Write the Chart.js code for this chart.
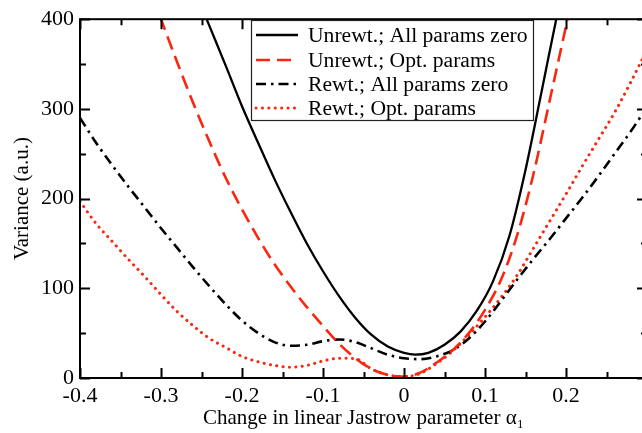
<!DOCTYPE html>
<html>
<head>
<meta charset="utf-8">
<script src="https://cdn.jsdelivr.net/npm/chart.js@4.4.1/dist/chart.umd.min.js"></script>
<style>
  html, body { margin: 0; padding: 0; background: #fff; overflow: hidden; width: 642px; height: 433px; }
  canvas { display: block; }
</style>
</head>
<body>
<canvas id="c" width="660" height="433"></canvas>
<script>
// ---- Data ----
const unrewZeroX = [-0.25,-0.24,-0.22,-0.20,-0.18,-0.16,-0.14,-0.12,-0.10,-0.08,-0.06,-0.04,-0.02,0.0,0.014,0.03,0.05,0.07,0.09,0.11,0.13,0.15,0.17,0.19,0.20];
const unrewZeroY = [414,392,348,303,262,222,185,150,119,91,67,48,35,28,26,28,37,52,75,108,158,232,320,409,450];

const unrewOptX = [-0.31,-0.30,-0.28,-0.26,-0.24,-0.22,-0.20,-0.18,-0.16,-0.14,-0.12,-0.10,-0.08,-0.06,-0.04,-0.02,0.0,0.02,0.04,0.06,0.08,0.10,0.12,0.14,0.16,0.18,0.20,0.21];
const unrewOptY = [425,400,352,306,263,223,188,156,127,102,79,58,38,22,10,3.5,1.5,6,17,31,50,76,110,160,228,310,392,432];

const rewX = [-0.40,-0.38,-0.36,-0.34,-0.32,-0.30,-0.28,-0.26,-0.24,-0.22,-0.20,-0.18,-0.16,-0.14,-0.12,-0.10,-0.08,-0.06,-0.04,-0.02,0.0,0.02,0.04,0.06,0.08,0.10,0.12,0.14,0.16,0.18,0.20,0.22,0.24,0.26,0.28,0.30];
const rewZeroY = [290,262,237,213,190,167,145,123,102,82,64,50,40,36,37,41,43,40,33,26,22,21,24,31,44,63,86,110,133,155,178,201,225,250,275,302];
const rewOptY  = [197,172,152,132,113,93,74,58,44,34,24,18,14,12,14,19,22,21.5,10,3.5,1.5,5,16,30,48,68,90,115,145,175,205,236,266,296,330,366];

const seriesNames = ["Unrewt.; All params zero","Unrewt.; Opt. params","Rewt.; All params zero","Rewt.; Opt. params"];
const xRange = [-0.4, 0.3];
const yRange = [0, 400];

const RED = 'rgb(250,38,14)';
const FONT = '"Liberation Serif", "Times New Roman", serif';

function pts(xs, ys){ return xs.map((x,i)=>({x:x, y:ys[i]})); }

const datasets = [
  {label: seriesNames[0], data: pts(unrewZeroX, unrewZeroY), borderColor:'#000', borderWidth:2.3, borderDash:[]},
  {label: seriesNames[1], data: pts(unrewOptX, unrewOptY), borderColor:RED, borderWidth:2.6, borderDash:[14,7]},
  {label: seriesNames[2], data: pts(rewX, rewZeroY), borderColor:'#000', borderWidth:2.6, borderDash:[10,5,2.5,5]},
  {label: seriesNames[3], data: pts(rewX, rewOptY), borderColor:RED, borderWidth:3, borderDash:[0.1,6.3], borderCapStyle:'round'}
].map(d => Object.assign({pointRadius:0, fill:false, cubicInterpolationMode:'monotone', clip:0}, d));

const framePlugin = {
  id: 'frame',
  afterDatasetsDraw(chart){
    const {ctx, chartArea:{left,right,top,bottom}, scales:{x,y}} = chart;
    ctx.save();
    ctx.strokeStyle = '#000';
    ctx.lineWidth = 2;
    ctx.strokeRect(left, top, right-left, bottom-top);
    const MAJ = 10, MIN = 6;
    ctx.beginPath();
    for (let k = 0; k <= 14; k++){
      const v = xRange[0] + k*0.05;
      const px = Math.round(x.getPixelForValue(v)) + 0.5;
      const L = (k % 2 === 0) ? MAJ : MIN;
      ctx.moveTo(px, bottom); ctx.lineTo(px, bottom - L);
      ctx.moveTo(px, top); ctx.lineTo(px, top + L);
    }
    for (let k = 0; k <= 8; k++){
      const v = yRange[0] + k*50;
      const py = Math.round(y.getPixelForValue(v)) + 0.5;
      const L = (k % 2 === 0) ? MAJ : MIN;
      ctx.moveTo(left, py); ctx.lineTo(left + L, py);
      ctx.moveTo(right, py); ctx.lineTo(right - L, py);
    }
    ctx.stroke();
    ctx.restore();
  },
  afterDraw(chart){
    const ctx = chart.ctx;
    ctx.save();
    const bx = 251, by = 20, bw = 282, bh = 100;
    ctx.fillStyle = '#fff';
    ctx.fillRect(bx, by, bw, bh);
    ctx.strokeStyle = '#222';
    ctx.lineWidth = 1.2;
    ctx.strokeRect(bx + 0.5, by + 0.5, bw, bh);
    const rows = [35, 60, 84, 108];
    chart.data.datasets.forEach((d, i) => {
      const yy = rows[i];
      ctx.beginPath();
      ctx.strokeStyle = d.borderColor;
      ctx.lineWidth = d.borderWidth;
      ctx.setLineDash(d.borderDash || []);
      ctx.lineCap = d.borderCapStyle || 'butt';
      ctx.moveTo(256, yy); ctx.lineTo(298, yy);
      ctx.stroke();
      ctx.setLineDash([]);
      ctx.lineCap = 'butt';
      ctx.fillStyle = '#000';
      ctx.font = '21.6px ' + FONT;
      ctx.textBaseline = 'middle';
      ctx.textAlign = 'left';
      ctx.fillText(d.label, 308, yy + 1);
    });
    ctx.restore();
  }
};

new Chart(document.getElementById('c'), {
  type: 'line',
  data: { datasets },
  options: {
    responsive: false,
    animation: false,
    events: [],
    layout: { padding: { top: 16, right: 13, left: 0, bottom: 0 } },
    plugins: { legend: { display: false }, tooltip: { enabled: false } },
    scales: {
      x: {
        type: 'linear', min: xRange[0], max: xRange[1],
        grid: { display: false, drawTicks: false },
        border: { display: false },
        ticks: {
          stepSize: 0.1, padding: 5, color: '#000', maxRotation: 0, autoSkip: false,
          font: { family: FONT, size: 22 },
          callback: v => (Math.abs(v - 0.3) < 1e-9) ? '' : (Math.abs(v) < 1e-9 ? '0' : v.toFixed(1))
        },
        title: { display: true, text: 'Change in linear Jastrow parameter α₁', color: '#000',
                 font: { family: FONT, size: 21 }, padding: { top: 0, bottom: 2 } },
        afterFit(s){ s.height = 55; }
      },
      y: {
        type: 'linear', min: yRange[0], max: yRange[1],
        grid: { display: false, drawTicks: false },
        border: { display: false },
        ticks: {
          stepSize: 100, padding: 6, color: '#000',
          font: { family: FONT, size: 22 },
          callback: v => String(v)
        },
        title: { display: true, text: 'Variance (a.u.)', color: '#000',
                 font: { family: FONT, size: 21 }, padding: { top: 10, bottom: 0 } },
        afterFit(s){ s.width = 80; }
      }
    }
  },
  plugins: [framePlugin]
});
</script>
</body>
</html>
